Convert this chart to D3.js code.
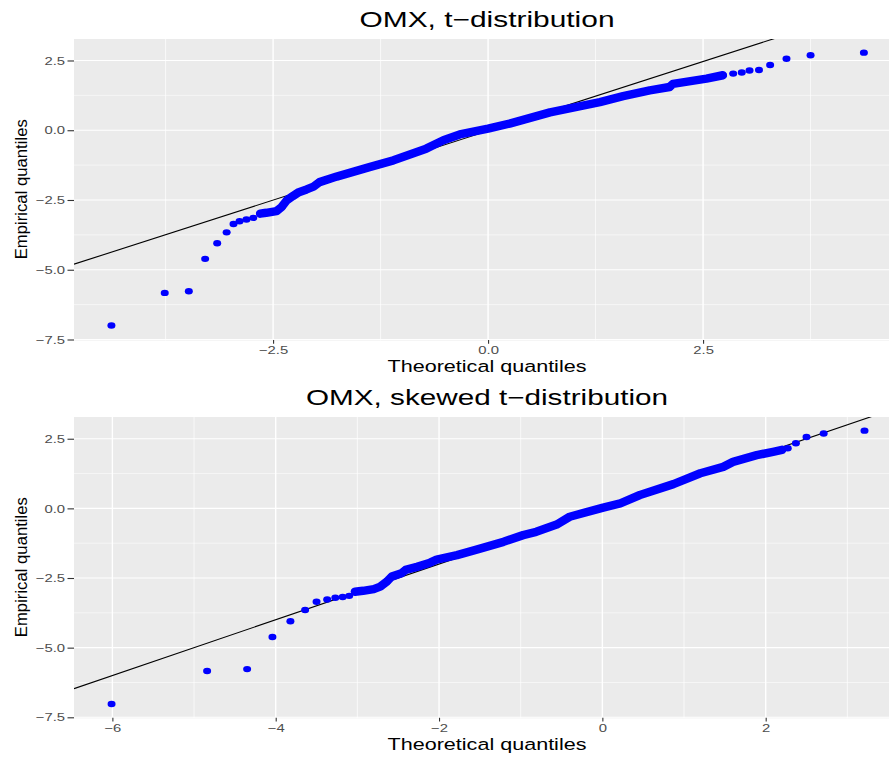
<!DOCTYPE html>
<html>
<head>
<meta charset="utf-8">
<script src="https://cdn.jsdelivr.net/npm/d3@7"></script>
<style>
  body { margin: 0; background: #fff; }
  text { font-family: "Liberation Sans", Arial, sans-serif; }
</style>
</head>
<body>
<svg id="chart"></svg>
<script>
const width = 889, height = 757;
const sx = 1.29; // the original picture is stretched sideways

// OMX vs t-distribution, [theoretical, empirical]
const tLow = [[-4.38,-7.0],[-3.76,-5.83],[-3.48,-5.77],[-3.29,-4.61],[-3.15,-4.05],[-3.04,-3.66],
  [-2.96,-3.36],[-2.89,-3.26],[-2.81,-3.20],[-2.73,-3.14]];
const tBand = [[-2.65,-2.99],[-2.58,-2.96],[-2.46,-2.90],[-2.40,-2.75],[-2.34,-2.51],[-2.27,-2.36],
  [-2.20,-2.22],[-2.11,-2.12],[-2.03,-2.02],[-1.96,-1.86],[-1.76,-1.66],[-1.57,-1.49],[-1.38,-1.32],
  [-1.10,-1.08],[-0.72,-0.66],[-0.52,-0.36],[-0.33,-0.15],[0.0,0.06],[0.25,0.24],[0.72,0.64],
  [1.30,1.01],[1.57,1.22],[1.88,1.43],[2.11,1.55],[2.15,1.66],[2.54,1.85],[2.73,1.97]];
const tHigh = [[2.85,2.03],[2.95,2.07],[3.04,2.14],[3.15,2.16],[3.28,2.34],[3.47,2.56],[3.75,2.69],[4.37,2.78]];
const tLine = [-0.02, 0.993]; // intercept, slope

// OMX vs skewed t-distribution
const sLow = [[-6.01,-7.02],[-4.84,-5.84],[-4.35,-5.77],[-4.04,-4.62],[-3.82,-4.05],[-3.64,-3.65],
  [-3.50,-3.35],[-3.37,-3.27],[-3.27,-3.21],[-3.18,-3.18],[-3.10,-3.14]];
const sBand = [[-3.03,-2.99],[-2.93,-2.96],[-2.80,-2.90],[-2.72,-2.81],[-2.64,-2.63],[-2.58,-2.45],
  [-2.46,-2.33],[-2.41,-2.21],[-2.27,-2.10],[-2.11,-1.95],[-2.03,-1.84],[-1.78,-1.68],[-1.54,-1.48],
  [-1.21,-1.20],[-0.97,-0.96],[-0.81,-0.84],[-0.56,-0.58],[-0.40,-0.30],[0.01,0.03],[0.22,0.18],
  [0.46,0.48],[0.87,0.87],[1.20,1.26],[1.48,1.49],[1.60,1.67],[1.89,1.91],[2.09,2.03],[2.20,2.10]];
const sHigh = [[2.27,2.16],[2.37,2.34],[2.50,2.56],[2.71,2.69],[3.21,2.79]];
const sLine = [0.0, 1.0];

const yTicks = [-7.5, -5, -2.5, 0, 2.5];
const yMinor = [-6.25, -3.75, -1.25, 1.25];
const tXTicks = [-2.5, 0, 2.5];
const tXMinor = [-3.75, -1.25, 1.25, 3.75];
const sXTicks = [-6, -4, -2, 0, 2];
const sXMinor = [-5, -3, -1, 1, 3];

const svg = d3.select("#chart").attr("width", width).attr("height", height);
svg.append("rect").attr("width", width).attr("height", height).attr("fill", "#fff");

const fmt1 = d3.format(".1f"), fmt0 = d3.format("d"); // d3.format already uses U+2212

function stretch(sel) {
  sel.each(function() {
    const w = this.getComputedTextLength();
    d3.select(this).attr("textLength", w * sx).attr("lengthAdjust", "spacingAndGlyphs");
  });
}

function panel(p) {
  const x = d3.scaleLinear().domain(p.xDom).range([74, 889]);
  const y = d3.scaleLinear().domain(p.yDom).range([p.bottom, p.top]);
  const g = svg.append("g");

  g.append("clipPath").attr("id", p.id)
    .append("rect").attr("x", 74).attr("y", p.top).attr("width", 815).attr("height", p.bottom - p.top + 1);

  g.append("rect").attr("x", 74).attr("y", p.top).attr("width", 815).attr("height", p.bottom - p.top + 1)
    .attr("fill", "#EBEBEB");

  const grid = g.append("g").attr("stroke", "#fff");
  grid.selectAll(".ym").data(yMinor).join("line")
    .attr("x1", 74).attr("x2", 889).attr("y1", d => y(d)).attr("y2", d => y(d)).attr("stroke-width", 0.55);
  grid.selectAll(".xm").data(p.xMinor).join("line")
    .attr("y1", p.top).attr("y2", p.bottom + 1).attr("x1", d => x(d)).attr("x2", d => x(d)).attr("stroke-width", 0.7);
  grid.selectAll(".yM").data(yTicks).join("line")
    .attr("x1", 74).attr("x2", 889).attr("y1", d => y(d)).attr("y2", d => y(d)).attr("stroke-width", 1.1);
  grid.selectAll(".xM").data(p.xTicks).join("line")
    .attr("y1", p.top).attr("y2", p.bottom + 1).attr("x1", d => x(d)).attr("x2", d => x(d)).attr("stroke-width", 1.4);

  const marks = g.append("g").attr("clip-path", `url(#${p.id})`);

  // reference line
  const [a, b] = p.line;
  marks.append("line")
    .attr("x1", x(p.xDom[0])).attr("y1", y(a + b * p.xDom[0]))
    .attr("x2", x(p.xDom[1])).attr("y2", y(a + b * p.xDom[1]))
    .attr("stroke", "#000").attr("stroke-width", 1.1);

  // dense middle of the sample
  marks.append("path").datum(p.band)
    .attr("d", d3.line().x(d => x(d[0])).y(d => y(d[1])))
    .attr("fill", "none").attr("stroke", "#0000FF").attr("stroke-width", 8.5)
    .attr("stroke-linecap", "round").attr("stroke-linejoin", "round");

  marks.selectAll("ellipse").data(p.low.concat(p.band, p.high)).join("ellipse")
    .attr("cx", d => x(d[0])).attr("cy", d => y(d[1]))
    .attr("rx", 4).attr("ry", 3.2).attr("fill", "#0000FF");

  // axes
  const ya = g.append("g").attr("transform", "translate(74,0)")
    .call(d3.axisLeft(y).tickValues(yTicks).tickFormat(fmt1).tickSize(6.5).tickPadding(2.5));
  const xa = g.append("g").attr("transform", `translate(0,${p.bottom + 0.5})`)
    .call(d3.axisBottom(x).tickValues(p.xTicks).tickFormat(p.xFmt).tickSize(3.7).tickPadding(2.5));
  [ya, xa].forEach(ax => {
    ax.select(".domain").remove();
    ax.selectAll("line").attr("stroke", "#333").attr("stroke-width", 1.1);
    ax.selectAll("text").attr("fill", "#4D4D4D").attr("font-size", 11.5)
      .style("font-family", '"Liberation Sans", Arial, sans-serif').call(stretch);
  });

  svg.append("text").attr("x", 487).attr("y", p.top - 12).attr("text-anchor", "middle")
    .attr("font-size", 21.5).attr("fill", "#000").text(p.title)
    .attr("textLength", p.titleW).attr("lengthAdjust", "spacingAndGlyphs");

  svg.append("text").attr("x", 487).attr("y", p.bottom + 32.5).attr("text-anchor", "middle")
    .attr("font-size", 16.7).attr("fill", "#000").text("Theoretical quantiles")
    .attr("textLength", 199).attr("lengthAdjust", "spacingAndGlyphs");

  svg.append("text")
    .attr("transform", `translate(27,${(p.top + p.bottom) / 2}) rotate(-90)`)
    .attr("text-anchor", "middle").attr("font-size", 16.7).attr("fill", "#000")
    .text("Empirical quantiles");
}

panel({
  id: "clipT", title: "OMX, t\u2212distribution", titleW: 255,
  top: 39, bottom: 339.5, xDom: [-4.815, 4.662], yDom: [-7.5, 3.27],
  xTicks: tXTicks, xMinor: tXMinor, xFmt: fmt1,
  low: tLow, band: tBand, high: tHigh, line: tLine
});

panel({
  id: "clipS", title: "OMX, skewed t\u2212distribution", titleW: 362,
  top: 417, bottom: 717.3, xDom: [-6.47, 3.51], yDom: [-7.5, 3.28],
  xTicks: sXTicks, xMinor: sXMinor, xFmt: fmt0,
  low: sLow, band: sBand, high: sHigh, line: sLine
});
</script>
</body>
</html>
